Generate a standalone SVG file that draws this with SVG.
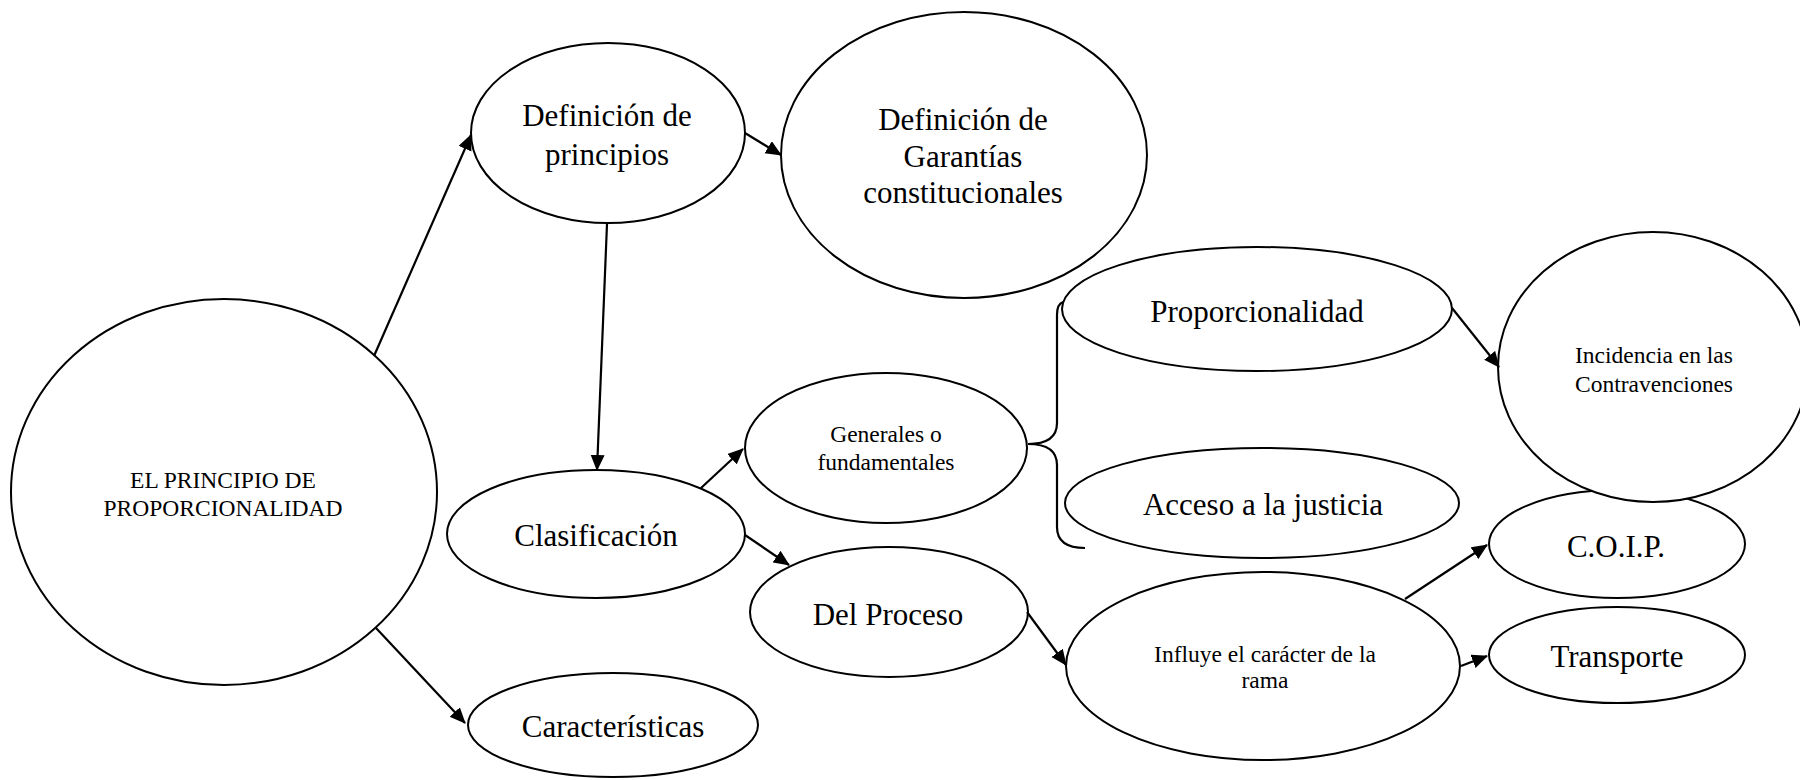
<svg xmlns="http://www.w3.org/2000/svg" width="1800" height="780" viewBox="0 0 1800 780">
<style>
  .n ellipse { fill: #fff; stroke: #000; stroke-width: 2; }
  .t { font-family: "Liberation Serif", "Times New Roman", serif; fill: #000; text-anchor: middle; }
  .big { font-size: 31px; }
  .small { font-size: 23.5px; }
  .c line, .c path { stroke: #000; stroke-width: 2.2; fill: none; }
</style>
<defs>
  <marker id="ah" markerUnits="userSpaceOnUse" markerWidth="17" markerHeight="15" refX="15" refY="7" orient="auto">
    <path d="M0,0 L16,7 L0,14 z" fill="#000"/>
  </marker>
</defs>
<rect width="1800" height="780" fill="#fff"/>

<g id="principio" class="n">
  <ellipse cx="224" cy="492" rx="213" ry="193"/>
  <text class="t small" x="223" y="488">EL PRINCIPIO DE</text>
  <text class="t small" x="223" y="516">PROPORCIONALIDAD</text>
</g>
<g id="def-principios" class="n">
  <ellipse cx="608" cy="133" rx="137" ry="90"/>
  <text class="t big" x="607" y="126">Definición de</text>
  <text class="t big" x="607" y="165">principios</text>
</g>
<g id="def-garantias" class="n">
  <ellipse cx="964" cy="155" rx="183" ry="143"/>
  <text class="t big" x="963" y="130">Definición de</text>
  <text class="t big" x="963" y="167">Garantías</text>
  <text class="t big" x="963" y="203">constitucionales</text>
</g>
<g id="clasificacion" class="n">
  <ellipse cx="596" cy="534" rx="149" ry="64"/>
  <text class="t big" x="596" y="546">Clasificación</text>
</g>
<g id="caracteristicas" class="n">
  <ellipse cx="613" cy="725" rx="145" ry="52"/>
  <text class="t big" x="613" y="737">Características</text>
</g>
<g id="generales" class="n">
  <ellipse cx="886" cy="448" rx="141" ry="75"/>
  <text class="t small" x="886" y="442">Generales o</text>
  <text class="t small" x="886" y="470">fundamentales</text>
</g>
<g id="del-proceso" class="n">
  <ellipse cx="889" cy="612" rx="139" ry="65"/>
  <text class="t big" x="888" y="625">Del Proceso</text>
</g>
<g id="proporcionalidad" class="n">
  <ellipse cx="1257" cy="309" rx="195" ry="62"/>
  <text class="t big" x="1257" y="322">Proporcionalidad</text>
</g>
<g id="acceso" class="n">
  <ellipse cx="1262" cy="503" rx="197" ry="55"/>
  <text class="t big" x="1263" y="515">Acceso a la justicia</text>
</g>
<g id="influye" class="n">
  <ellipse cx="1263" cy="666" rx="197" ry="94"/>
  <text class="t small" x="1265" y="662">Influye el carácter de la</text>
  <text class="t small" x="1265" y="688">rama</text>
</g>
<g id="coip" class="n">
  <ellipse cx="1617" cy="544" rx="128" ry="54"/>
  <text class="t big" x="1616" y="557">C.O.I.P.</text>
</g>
<g id="transporte" class="n">
  <ellipse cx="1617" cy="655" rx="128" ry="48"/>
  <text class="t big" x="1617" y="667">Transporte</text>
</g>
<g id="incidencia" class="n">
  <ellipse cx="1653" cy="367" rx="155" ry="135"/>
  <text class="t small" x="1654" y="363">Incidencia en las</text>
  <text class="t small" x="1654" y="392">Contravenciones</text>
</g>

<g id="connectors" class="c">
  <line x1="374" y1="356" x2="471" y2="135" marker-end="url(#ah)"/>
  <line x1="745" y1="133" x2="781" y2="155" marker-end="url(#ah)"/>
  <line x1="607" y1="224" x2="597" y2="470" marker-end="url(#ah)"/>
  <line x1="376" y1="628" x2="465" y2="723" marker-end="url(#ah)"/>
  <line x1="701" y1="488" x2="743" y2="449" marker-end="url(#ah)"/>
  <line x1="745" y1="535" x2="789" y2="565" marker-end="url(#ah)"/>
  <line x1="1027" y1="612" x2="1066" y2="665" marker-end="url(#ah)"/>
  <line x1="1452" y1="308" x2="1499" y2="367" marker-end="url(#ah)"/>
  <line x1="1405" y1="599" x2="1487" y2="545" marker-end="url(#ah)"/>
  <line x1="1461" y1="666" x2="1487" y2="656" marker-end="url(#ah)"/>
  <path d="M1063,302 Q1057,304 1057,315 L1057,423 Q1057,444 1028,444 Q1057,444 1057,465 L1057,527 Q1057,548 1085,548"/>
</g>
</svg>
